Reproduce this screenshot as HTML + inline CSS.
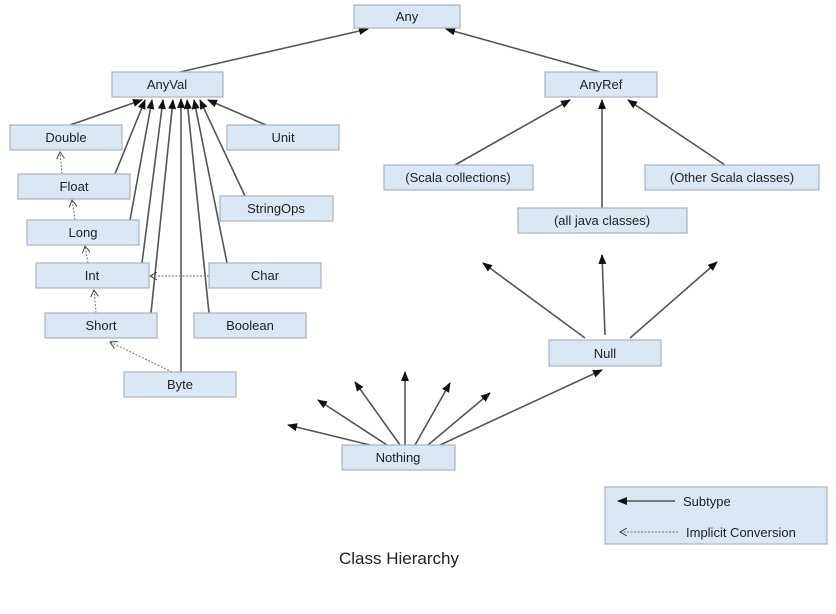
<!DOCTYPE html>
<html><head><meta charset="utf-8"><style>
body{margin:0;background:#fff;}
svg{display:block;}
text{font-family:"Liberation Sans",Arial,sans-serif;font-size:13px;fill:#222;}
.b{fill:#dbe8f4;stroke:#aab4bf;stroke-width:1.2;}
.s{stroke:#555;stroke-width:1.6;fill:none;}
.d{stroke:#888;stroke-width:1.2;stroke-dasharray:2,1.5;fill:none;}
</style></head><body>
<svg width="836" height="614" viewBox="0 0 836 614">
<defs>
<marker id="a" markerWidth="10" markerHeight="8" refX="9" refY="4" orient="auto" markerUnits="userSpaceOnUse"><path d="M0,0 L10,4 L0,8 z" fill="#111"/></marker>
<marker id="o" markerWidth="8" markerHeight="8" refX="7" refY="4" orient="auto" markerUnits="userSpaceOnUse"><path d="M0,0 L7,4 L0,8" fill="none" stroke="#444" stroke-width="1"/></marker>
</defs>
<!-- subtype lines -->
<g class="s" marker-end="url(#a)">
<line x1="180" y1="72" x2="368" y2="29" marker-end="url(#a)"/>
<line x1="600" y1="72" x2="446" y2="29" marker-end="url(#a)"/>
<line x1="70" y1="125" x2="142" y2="100" marker-end="url(#a)"/>
<line x1="115" y1="174" x2="145" y2="100" marker-end="url(#a)"/>
<line x1="130" y1="220" x2="152" y2="100" marker-end="url(#a)"/>
<line x1="142" y1="263" x2="163" y2="100" marker-end="url(#a)"/>
<line x1="151" y1="313" x2="173" y2="100" marker-end="url(#a)"/>
<line x1="181" y1="372" x2="181" y2="99" marker-end="url(#a)"/>
<line x1="209" y1="313" x2="187" y2="100" marker-end="url(#a)"/>
<line x1="227" y1="263" x2="194" y2="100" marker-end="url(#a)"/>
<line x1="245" y1="196" x2="200" y2="100" marker-end="url(#a)"/>
<line x1="266" y1="125" x2="208" y2="100" marker-end="url(#a)"/>
<line x1="455" y1="165" x2="570" y2="100" marker-end="url(#a)"/>
<line x1="602" y1="208" x2="602" y2="100" marker-end="url(#a)"/>
<line x1="725" y1="165" x2="628" y2="100" marker-end="url(#a)"/>
<line x1="585" y1="338" x2="483" y2="263" marker-end="url(#a)"/>
<line x1="605" y1="335" x2="602" y2="255" marker-end="url(#a)"/>
<line x1="630" y1="338" x2="717" y2="262" marker-end="url(#a)"/>
<line x1="370" y1="445" x2="288" y2="425" marker-end="url(#a)"/>
<line x1="387" y1="445" x2="318" y2="400" marker-end="url(#a)"/>
<line x1="400" y1="445" x2="355" y2="382" marker-end="url(#a)"/>
<line x1="405" y1="445" x2="405" y2="372" marker-end="url(#a)"/>
<line x1="415" y1="445" x2="450" y2="383" marker-end="url(#a)"/>
<line x1="428" y1="445" x2="490" y2="393" marker-end="url(#a)"/>
<line x1="440" y1="445" x2="602" y2="370" marker-end="url(#a)"/>
</g>
<!-- implicit -->
<g class="d">
<line x1="62" y1="174" x2="60" y2="152" marker-end="url(#o)"/>
<line x1="75" y1="220" x2="72" y2="200" marker-end="url(#o)"/>
<line x1="88" y1="263" x2="85" y2="246" marker-end="url(#o)"/>
<line x1="96" y1="313" x2="94" y2="290" marker-end="url(#o)"/>
<line x1="209" y1="276" x2="150" y2="276" marker-end="url(#o)"/>
<line x1="172" y1="372" x2="110" y2="342" marker-end="url(#o)"/>
</g>
<!-- boxes -->
<g>
<rect class="b" x="354" y="5" width="106" height="23"/><text x="407" y="21" text-anchor="middle">Any</text>
<rect class="b" x="112" y="72" width="111" height="25"/><text x="167" y="89" text-anchor="middle">AnyVal</text>
<rect class="b" x="545" y="72" width="112" height="25"/><text x="601" y="89" text-anchor="middle">AnyRef</text>
<rect class="b" x="10" y="125" width="112" height="25"/><text x="66" y="142" text-anchor="middle">Double</text>
<rect class="b" x="227" y="125" width="112" height="25"/><text x="283" y="142" text-anchor="middle">Unit</text>
<rect class="b" x="18" y="174" width="112" height="25"/><text x="74" y="191" text-anchor="middle">Float</text>
<rect class="b" x="220" y="196" width="113" height="25"/><text x="276" y="213" text-anchor="middle">StringOps</text>
<rect class="b" x="27" y="220" width="112" height="25"/><text x="83" y="237" text-anchor="middle">Long</text>
<rect class="b" x="36" y="263" width="113" height="25"/><text x="92" y="280" text-anchor="middle">Int</text>
<rect class="b" x="209" y="263" width="112" height="25"/><text x="265" y="280" text-anchor="middle">Char</text>
<rect class="b" x="45" y="313" width="112" height="25"/><text x="101" y="330" text-anchor="middle">Short</text>
<rect class="b" x="194" y="313" width="112" height="25"/><text x="250" y="330" text-anchor="middle">Boolean</text>
<rect class="b" x="124" y="372" width="112" height="25"/><text x="180" y="389" text-anchor="middle">Byte</text>
<rect class="b" x="384" y="165" width="149" height="25"/><text x="458" y="182" text-anchor="middle">(Scala collections)</text>
<rect class="b" x="645" y="165" width="174" height="25"/><text x="732" y="182" text-anchor="middle">(Other Scala classes)</text>
<rect class="b" x="518" y="208" width="169" height="25"/><text x="602" y="225" text-anchor="middle">(all java classes)</text>
<rect class="b" x="549" y="340" width="112" height="26"/><text x="605" y="358" text-anchor="middle">Null</text>
<rect class="b" x="342" y="445" width="113" height="25"/><text x="398" y="462" text-anchor="middle">Nothing</text>
<rect class="b" x="605" y="487" width="222" height="57"/>
</g>
<line x1="618" y1="501" x2="675" y2="501" class="s" marker-end="url(#a)" transform="rotate(180 646.5 501)"/>
<text x="683" y="506">Subtype</text>
<line x1="678" y1="532" x2="620" y2="532" class="d" marker-end="url(#o)"/>
<text x="686" y="537">Implicit Conversion</text>
<text x="399" y="564" text-anchor="middle" style="font-size:17px">Class Hierarchy</text>
</svg>
</body></html>
